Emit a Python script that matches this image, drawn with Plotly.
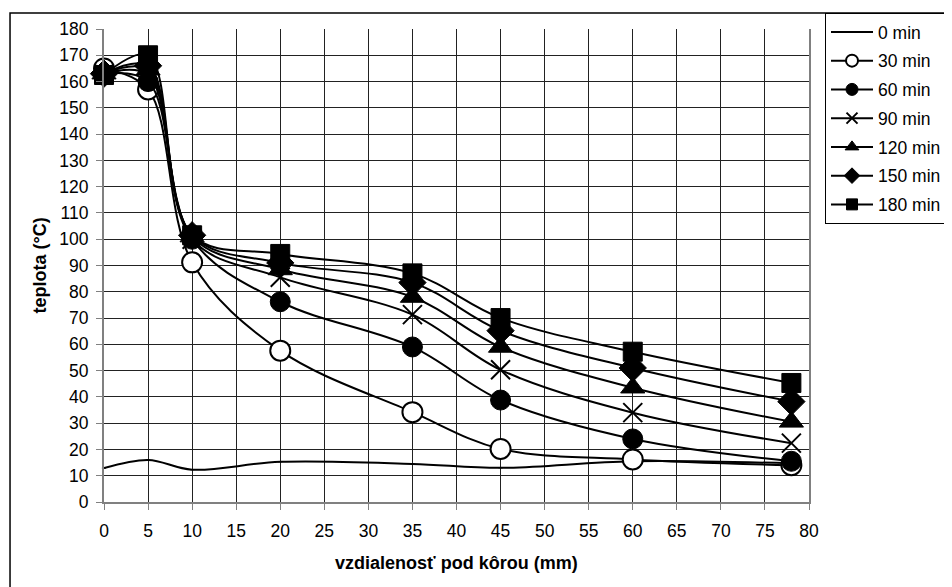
import plotly.graph_objects as go

distance_mm = [0, 5, 10, 20, 35, 45, 60, 78]

series_names = ["0 min", "30 min", "60 min", "90 min", "120 min", "150 min", "180 min"]

temp_0 = [12.9, 16.0, 12.3, 15.3, 14.5, 13.0, 15.5, 14.7]
temp_30 = [165.0, 157.0, 91.2, 57.6, 34.2, 20.2, 16.2, 14.0]
temp_60 = [163.0, 160.0, 100.0, 76.2, 59.0, 38.8, 24.0, 15.5]
temp_90 = [163.0, 162.5, 100.0, 85.5, 71.3, 50.3, 34.0, 22.4]
temp_120 = [163.0, 164.5, 101.0, 88.5, 78.0, 59.0, 43.5, 30.5]
temp_150 = [163.0, 166.0, 101.5, 91.0, 83.5, 65.2, 51.0, 38.2]
temp_180 = [162.5, 170.0, 101.5, 94.4, 87.0, 70.0, 57.2, 45.3]

all_series = [temp_0, temp_30, temp_60, temp_90, temp_120, temp_150, temp_180]

symbols = ["line-ew", "circle", "circle", "x-thin", "triangle-up", "diamond", "square"]
fills = ["black", "white", "black", "black", "black", "black", "black"]
plot_sizes = [3, 20, 20, 19, 21, 21, 19]
legend_sizes = [3, 12, 12, 11, 12, 12, 11]
outline_w = [1, 2, 1, 2, 1, 1, 1]

FONT = "Liberation Sans, Arial, sans-serif"

fig = go.Figure()
for i, (name, vals) in enumerate(zip(series_names, all_series)):
    fig.add_trace(go.Scatter(
        x=distance_mm, y=vals, name=name,
        mode="lines+markers",
        line=dict(color="black", width=2, shape="spline", smoothing=1.0),
        marker=dict(symbol=symbols[i], size=plot_sizes[i], color=fills[i],
                    line=dict(color="black", width=outline_w[i])),
        cliponaxis=False, showlegend=False, legendgroup=name,
    ))
# legend entries (smaller marker glyphs, as in the original legend)
for i, name in enumerate(series_names):
    fig.add_trace(go.Scatter(
        x=[None], y=[None], name=name,
        mode="lines+markers",
        line=dict(color="black", width=2),
        marker=dict(symbol=symbols[i], size=legend_sizes[i], color=fills[i],
                    line=dict(color="black", width=outline_w[i])),
        showlegend=True, legendgroup=name,
    ))

# page body has an 8px margin; plot area in figure pixels: x 96..801, y 21..494
fig.update_layout(
    width=944, height=579,
    margin=dict(l=96, r=143, t=21, b=85, autoexpand=False),
    paper_bgcolor="white", plot_bgcolor="white",
    font=dict(family=FONT, size=17, color="black"),
    showlegend=True,
    legend=dict(
        x=1.0227, y=1.0338, xanchor="left", yanchor="top",
        bordercolor="black", borderwidth=1, bgcolor="white",
        font=dict(family=FONT, size=17.5, color="black"),
        tracegroupgap=3, itemwidth=42,
    ),
    xaxis=dict(
        range=[0, 80], dtick=5, tick0=0,
        showgrid=True, gridcolor="#222222", gridwidth=1,
        showline=True, linecolor="#808080", linewidth=2,
        ticks="outside", ticklen=6, tickcolor="#808080",
        zeroline=False, ticklabelstandoff=6,
        tickfont=dict(family=FONT, size=17.5),
    ),
    yaxis=dict(
        range=[0, 180], dtick=10, tick0=0,
        showgrid=True, gridcolor="#222222", gridwidth=1,
        showline=True, linecolor="#808080", linewidth=2, mirror=True,
        ticks="outside", ticklen=6, tickcolor="#808080",
        zeroline=False, ticklabelstandoff=4,
        tickfont=dict(family=FONT, size=17.5),
    ),
    annotations=[
        dict(text="<b>vzdialenosť pod kôrou (mm)</b>", xref="paper", yref="paper",
             x=0.5, y=-0.129, xanchor="center", yanchor="middle", showarrow=False,
             font=dict(family=FONT, size=18)),
        dict(text="<b>teplota (°C)</b>", xref="paper", yref="paper",
             x=-0.0908, y=0.5, xanchor="center", yanchor="middle", showarrow=False,
             textangle=-90, font=dict(family=FONT, size=18)),
    ],
    shapes=[
        dict(type="rect", xref="paper", yref="paper",
             x0=-0.1333, x1=1.25, y0=-0.25, y1=1.0338,
             line=dict(color="black", width=1.5), fillcolor="rgba(0,0,0,0)", layer="below"),
    ],
)

fig.write_html("out.html")
